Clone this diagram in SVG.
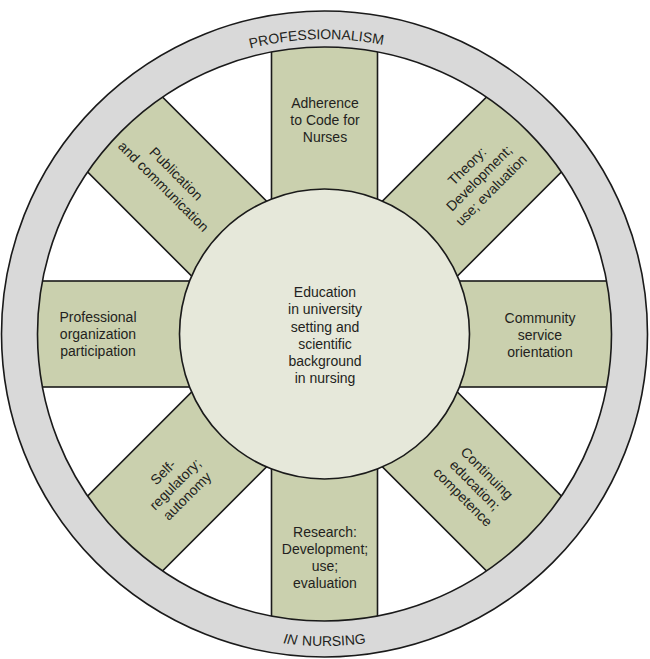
<svg xmlns="http://www.w3.org/2000/svg" xmlns:xlink="http://www.w3.org/1999/xlink" width="650" height="659" viewBox="0 0 650 659">
<style>
.spoke{fill:#cad0ae;stroke:#1a1a1a;stroke-width:1.6}
.ring{fill:#d9d9d9;stroke:#1a1a1a;stroke-width:1.6;fill-rule:evenodd}
.hub{fill:#e6e8da;stroke:#1a1a1a;stroke-width:1.6}
.t{font-family:"Liberation Sans",Arial,sans-serif;font-size:14px;fill:#231f20;text-anchor:middle}
</style>
<defs>
<path id="arcTop" d="M 29.5 334 A 295 295 0 0 1 619.5 334"/>
<path id="arcBot" d="M 12.5 334 A 312 312 0 0 0 636.5 334"/>
</defs>
<rect width="650" height="659" fill="#fff"/>
<g id="spokes">
<g id="spoke-top"><rect class="spoke" x="271.5" y="34" width="106" height="300"/>
<text class="t" x="325" y="108">Adherence</text><text class="t" x="325" y="125">to Code for</text><text class="t" x="325" y="142">Nurses</text></g>
<g id="spoke-upper-right"><rect class="spoke" x="-53" y="-300" width="106" height="300" transform="translate(324.5,334) rotate(45)"/>
<g transform="translate(479,178) rotate(-45)"><text class="t" x="0" y="-12">Theory:</text><text class="t" x="0" y="5">Development;</text><text class="t" x="0" y="22">use; evaluation</text></g></g>
<g id="spoke-right"><rect class="spoke" x="-53" y="-300" width="106" height="300" transform="translate(324.5,334) rotate(90)"/>
<text class="t" x="540" y="323">Community</text><text class="t" x="540" y="340">service</text><text class="t" x="540" y="357">orientation</text></g>
<g id="spoke-lower-right"><rect class="spoke" x="-53" y="-300" width="106" height="300" transform="translate(324.5,334) rotate(135)"/>
<g transform="translate(475,485) rotate(45)"><text class="t" x="0" y="-12">Continuing</text><text class="t" x="0" y="5">education;</text><text class="t" x="0" y="22">competence</text></g></g>
<g id="spoke-bottom"><rect class="spoke" x="-53" y="-300" width="106" height="300" transform="translate(324.5,334) rotate(180)"/>
<text class="t" x="325" y="537">Research:</text><text class="t" x="325" y="554">Development;</text><text class="t" x="325" y="571">use;</text><text class="t" x="325" y="588">evaluation</text></g>
<g id="spoke-lower-left"><rect class="spoke" x="-53" y="-300" width="106" height="300" transform="translate(324.5,334) rotate(225)"/>
<g transform="translate(175,484) rotate(-45)"><text class="t" x="0" y="-12">Self-</text><text class="t" x="0" y="5">regulatory;</text><text class="t" x="0" y="22">autonomy</text></g></g>
<g id="spoke-left"><rect class="spoke" x="-53" y="-300" width="106" height="300" transform="translate(324.5,334) rotate(270)"/>
<text class="t" x="98" y="322">Professional</text><text class="t" x="98" y="339">organization</text><text class="t" x="98" y="356">participation</text></g>
<g id="spoke-upper-left"><rect class="spoke" x="-53" y="-300" width="106" height="300" transform="translate(324.5,334) rotate(315)"/>
<g transform="translate(170,180) rotate(45)"><text class="t" x="0" y="-4">Publication</text><text class="t" x="0" y="14">and communication</text></g></g>
</g>
<g id="ring">
<path class="ring" d="M 1.5 334 A 323 323 0 1 0 647.5 334 A 323 323 0 1 0 1.5 334 Z M 37.5 334 A 287 287 0 1 0 611.5 334 A 287 287 0 1 0 37.5 334 Z"/>
<text class="t"><textPath xlink:href="#arcTop" href="#arcTop" startOffset="455">PROFESSIONALISM</textPath></text>
<text class="t"><textPath xlink:href="#arcBot" href="#arcBot" startOffset="490"><tspan font-style="italic">IN</tspan><tspan dx="1"> NURSING</tspan></textPath></text>
</g>
<g id="hub">
<circle class="hub" cx="324.5" cy="334" r="145"/>
<text class="t" x="325" y="297">Education</text>
<text class="t" x="325" y="314">in university</text>
<text class="t" x="325" y="331.5">setting and</text>
<text class="t" x="325" y="348.5">scientific</text>
<text class="t" x="325" y="366">background</text>
<text class="t" x="325" y="383">in nursing</text>
</g>
<g id="connectors"/>
</svg>
